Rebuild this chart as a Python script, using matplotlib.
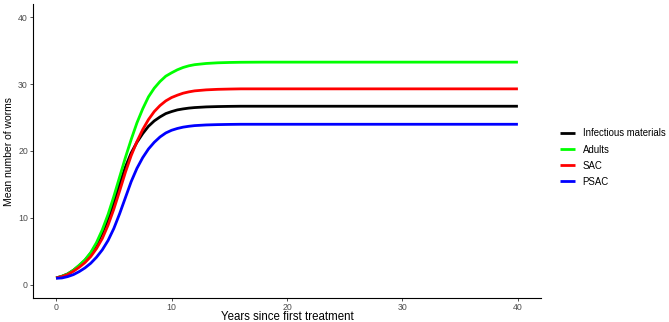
import matplotlib
matplotlib.use("Agg")
import matplotlib.pyplot as plt
from matplotlib.lines import Line2D

plt.rcParams['font.family'] = ['Liberation Sans', 'DejaVu Sans']

years = [0, 0.5, 1, 1.5, 2, 2.5, 3, 3.5, 4, 4.5, 5, 5.5, 6, 6.5, 7, 7.5, 8, 8.5,
         9, 9.5, 10, 10.5, 11, 11.5, 12, 13, 14, 15, 16, 18, 20, 25, 30, 35, 40]

infectious = [1.0, 1.25, 1.6, 2.15, 2.85, 3.65, 4.7, 6.0, 7.7, 9.8, 12.3, 15.0, 17.6,
              19.7, 21.3, 22.6, 23.7, 24.5, 25.1, 25.6, 25.9, 26.15, 26.3, 26.42,
              26.5, 26.6, 26.65, 26.68, 26.7, 26.7, 26.7, 26.7, 26.7, 26.7, 26.7]
adults = [1.0, 1.25, 1.6, 2.15, 2.9, 3.7, 4.8, 6.3, 8.2, 10.5, 13.2, 16.1, 19.0,
          21.7, 24.2, 26.3, 28.1, 29.4, 30.4, 31.2, 31.7, 32.15, 32.5, 32.75,
          32.92, 33.1, 33.2, 33.25, 33.28, 33.3, 33.3, 33.3, 33.3, 33.3, 33.3]
sac = [1.0, 1.2, 1.5, 2.0, 2.6, 3.3, 4.2, 5.4, 6.9, 8.9, 11.3, 14.0, 16.8,
       19.3, 21.4, 23.2, 24.7, 25.9, 26.8, 27.5, 28.0, 28.35, 28.65, 28.85,
       29.0, 29.15, 29.23, 29.27, 29.3, 29.3, 29.3, 29.3, 29.3, 29.3, 29.3]
psac = [0.95, 1.0, 1.2, 1.5, 1.95, 2.5, 3.2, 4.1, 5.2, 6.6, 8.4, 10.6, 13.0,
        15.4, 17.4, 19.0, 20.3, 21.3, 22.1, 22.7, 23.1, 23.37, 23.57, 23.7,
        23.8, 23.9, 23.95, 23.98, 24.0, 24.0, 24.0, 24.0, 24.0, 24.0, 24.0]

series_names = ["Infectious materials", "Adults", "SAC", "PSAC"]
series_colors = ["#000000", "#00FF00", "#FF0000", "#0000FF"]
series_values = [infectious, adults, sac, psac]

x_ticks = [0, 10, 20, 30, 40]
y_ticks = [0, 10, 20, 30, 40]

fig = plt.figure(figsize=(6.69, 3.22), dpi=100)
ax = fig.add_axes([33/669, 24/322, 508/669, 294/322])

for name, col, vals in zip(series_names, series_colors, series_values):
    ax.plot(years, vals, color=col, lw=2.0, label=name, solid_capstyle='butt')

ax.set_xlim(-2, 42)
ax.set_ylim(-2, 42)
ax.set_xticks(x_ticks)
ax.set_yticks(y_ticks)
ax.tick_params(axis='both', length=2.2, width=0.6, color='#333333',
               labelsize=6.3, labelcolor='#4D4D4D', pad=1.5)
for s in ['top', 'right']:
    ax.spines[s].set_visible(False)
for s in ['left', 'bottom']:
    ax.spines[s].set_linewidth(0.8)
    ax.spines[s].set_color('black')

ax.set_xlabel("Years since first treatment", fontsize=8.3, labelpad=-0.5)
ax.set_ylabel("Mean number of worms", fontsize=7.5, labelpad=3)

handles = [Line2D([0], [0], color=c, lw=2.0, solid_capstyle='butt') for c in series_colors]
fig.legend(handles, series_names, loc='center left',
           bbox_to_anchor=(560/669, 1 - 157.6/322), frameon=False,
           fontsize=6.9, handlelength=1.55, handletextpad=0.8,
           labelspacing=0.64, borderpad=0, borderaxespad=0)

fig.savefig("out.png", dpi=100)
